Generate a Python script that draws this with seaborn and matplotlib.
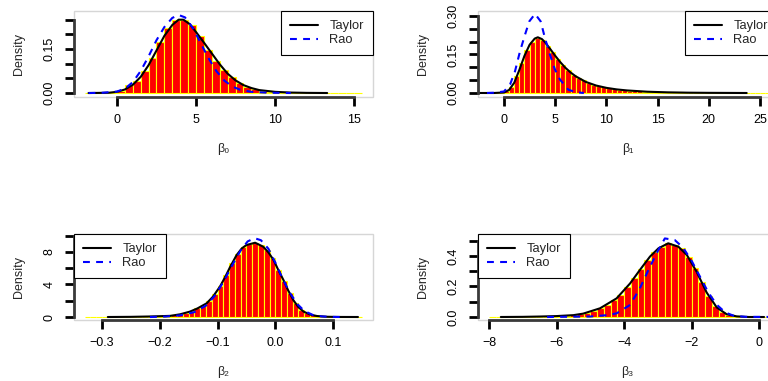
import numpy as np
import pandas as pd
import matplotlib.pyplot as plt
import seaborn as sns
from matplotlib.patches import Rectangle

sns.set_theme(style='white')
plt.rcParams['font.family'] = ['Liberation Sans', 'DejaVu Sans']

### Data ###

# beta0 : histogram (bin start, bin width, densities) + two density curves
b0_start, b0_width = -2.0, 0.5
b0_hist = [0, 0, 0.0005, 0.001, 0.006, 0.028, 0.042, 0.074, 0.119, 0.173,
           0.222, 0.25, 0.25, 0.231, 0.193, 0.148, 0.108, 0.08, 0.053, 0.034,
           0.02, 0.012, 0.007, 0.0045, 0.003, 0.002, 0.0012, 0.0008, 0.0005, 0.0003,
           0.0002, 0.0001, 0, 0, 0]
b0_taylor_x = [-1.8, -1.0, -0.5, 0.0, 0.5, 1.0, 1.5, 2.0, 2.5, 3.0, 3.5, 3.9, 4.2, 4.6,
               5.0, 5.5, 6.0, 6.5, 7.0, 7.5, 8.0, 8.5, 9.0, 10.0, 11.0, 12.0, 13.3]
b0_taylor_y = [0.0, 0.0005, 0.001, 0.004, 0.012, 0.028, 0.055, 0.095, 0.145, 0.195, 0.232,
               0.25, 0.25, 0.235, 0.208, 0.172, 0.135, 0.098, 0.066, 0.043, 0.027, 0.017,
               0.01, 0.004, 0.0015, 0.0005, 0.0]
b0_rao_x = [-1.8, -1.0, 0.0, 0.5, 1.0, 1.5, 2.0, 2.5, 3.0, 3.5, 3.9, 4.3, 4.8, 5.3,
            5.8, 6.3, 6.8, 7.3, 7.8, 8.5, 9.5, 11.0]
b0_rao_y = [0.0, 0.0005, 0.005, 0.015, 0.037, 0.075, 0.125, 0.18, 0.225, 0.256, 0.266,
            0.258, 0.222, 0.17, 0.118, 0.074, 0.042, 0.022, 0.011, 0.004, 0.001, 0.0]

# beta1
b1_start, b1_width = -2.0, 0.5
b1_hist = [0, 0, 0, 0.001, 0.006, 0.025, 0.065, 0.118, 0.168, 0.2,
           0.215, 0.205, 0.185, 0.158, 0.132, 0.109, 0.089, 0.072, 0.06, 0.049,
           0.04, 0.033, 0.027, 0.022, 0.019, 0.016, 0.013, 0.011, 0.0095, 0.008,
           0.0068, 0.0058, 0.005, 0.0043, 0.0037, 0.0032, 0.0027, 0.0023, 0.002, 0.0017,
           0.0014, 0.0012, 0.001, 0.0009, 0.0007, 0.0006, 0.0005, 0.0004, 0.0003, 0.0002,
           0.0002, 0.0001, 0.0001, 0, 0, 0, 0, 0]
b1_taylor_x = [-2.5, -1.0, 0.0, 0.5, 1.0, 1.5, 2.0, 2.5, 3.0, 3.3, 3.7, 4.0, 4.5, 5.0,
               5.5, 6.0, 6.5, 7.0, 8.0, 9.0, 10.0, 11.0, 12.0, 14.0, 16.0, 18.0, 20.0, 23.7]
b1_taylor_y = [0.0, 0.0, 0.002, 0.012, 0.04, 0.09, 0.145, 0.188, 0.212, 0.217, 0.21,
               0.198, 0.172, 0.145, 0.12, 0.098, 0.08, 0.065, 0.043, 0.029, 0.02, 0.014,
               0.01, 0.005, 0.0025, 0.0012, 0.0006, 0.0]
b1_rao_x = [-1.66, -1.0, 0.0, 0.59, 1.07, 1.56, 2.05, 2.47, 3.03, 3.58, 4.0, 4.49,
            4.98, 5.47, 6.28, 7.0, 7.8]
b1_rao_y = [0.0, 0.001, 0.006, 0.033, 0.084, 0.162, 0.227, 0.279, 0.308, 0.279, 0.214,
            0.149, 0.091, 0.052, 0.013, 0.003, 0.0]

# beta2
b2_start, b2_width = -0.33, 0.01
b2_hist = [0, 0, 0, 0.003, 0.005, 0.008, 0.01, 0.015, 0.02, 0.03,
           0.04, 0.055, 0.075, 0.1, 0.13, 0.22, 0.33, 0.5, 0.72, 1.05,
           1.35, 1.95, 2.8, 3.85, 5.2, 6.6, 7.8, 8.6, 8.95, 9.14,
           8.85, 8.2, 7.2, 5.8, 4.4, 2.9, 1.7, 0.9, 0.45, 0.22,
           0.1, 0.05, 0.02, 0.008, 0.003, 0.001, 0, 0]
b2_taylor_x = [-0.29, -0.25, -0.22, -0.2, -0.182, -0.165, -0.148, -0.135, -0.119, -0.108,
               -0.096, -0.087, -0.078, -0.067, -0.058, -0.05, -0.035, -0.021, -0.012,
               -0.003, 0.005, 0.014, 0.022, 0.031, 0.04, 0.049, 0.06, 0.072, 0.09, 0.11, 0.143]
b2_taylor_y = [0.0, 0.02, 0.06, 0.1, 0.14, 0.33, 0.66, 1.05, 1.68, 2.5, 3.73, 4.9, 6.2,
               7.63, 8.45, 8.86, 9.14, 8.65, 7.95, 7.0, 5.8, 4.55, 3.3, 2.09, 1.2, 0.66,
               0.3, 0.12, 0.03, 0.005, 0.0]
b2_rao_x = [-0.217, -0.19, -0.165, -0.14, -0.12, -0.105, -0.09, -0.075, -0.06, -0.048,
            -0.036, -0.025, -0.012, 0.0, 0.012, 0.025, 0.038, 0.05, 0.065, 0.08, 0.095, 0.116]
b2_rao_y = [0.0, 0.05, 0.2, 0.6, 1.4, 2.6, 4.3, 6.3, 8.2, 9.3, 9.7, 9.45, 8.4, 6.7, 4.8,
            3.0, 1.6, 0.75, 0.25, 0.07, 0.015, 0.0]

# beta3
b3_start, b3_width = -8.0, 0.2
b3_hist = [0, 0, 0.0005, 0.001, 0.001, 0.0015, 0.002, 0.0025, 0.003, 0.004,
           0.005, 0.008, 0.012, 0.018, 0.027, 0.04, 0.057, 0.08, 0.11, 0.145,
           0.195, 0.255, 0.315, 0.375, 0.425, 0.46, 0.482, 0.475, 0.45, 0.395,
           0.32, 0.23, 0.14, 0.072, 0.033, 0.012, 0.004, 0.001, 0, 0,
           0, 0]
b3_taylor_x = [-7.65, -7.0, -6.5, -6.0, -5.5, -5.21, -4.71, -4.22, -3.82, -3.53, -3.23,
               -2.98, -2.69, -2.39, -2.14, -1.85, -1.55, -1.25, -0.96, -0.66, -0.3, 0.15]
b3_taylor_y = [0.0, 0.001, 0.003, 0.006, 0.012, 0.022, 0.057, 0.122, 0.22, 0.308, 0.396,
               0.45, 0.483, 0.461, 0.407, 0.297, 0.16, 0.062, 0.018, 0.004, 0.0, 0.0]
b3_rao_x = [-6.28, -5.0, -4.5, -4.22, -3.82, -3.53, -3.23, -2.98, -2.79, -2.5, -2.25,
            -2.0, -1.75, -1.5, -1.25, -1.0, -0.75, -0.4, 0.6]
b3_rao_y = [0.0, 0.003, 0.012, 0.024, 0.079, 0.188, 0.33, 0.44, 0.515, 0.505, 0.455,
            0.37, 0.265, 0.16, 0.08, 0.03, 0.008, 0.001, 0.0]

# axes, ticks and labels
xticks = [[0, 5, 10, 15], [0, 5, 10, 15, 20, 25],
          [-0.3, -0.2, -0.1, 0.0, 0.1], [-8, -6, -4, -2, 0]]
xticklabels = [['0', '5', '10', '15'], ['0', '5', '10', '15', '20', '25'],
               ['\u22120.3', '\u22120.2', '\u22120.1', '0.0', '0.1'],
               ['\u22128', '\u22126', '\u22124', '\u22122', '0']]
yticks = [[0, 0.05, 0.10, 0.15, 0.20, 0.25], [0, 0.05, 0.10, 0.15, 0.20, 0.25, 0.30],
          [0, 2, 4, 6, 8, 10], [0, 0.1, 0.2, 0.3, 0.4, 0.5]]
yticklabels = [['0.00', '', '', '0.15', '', ''], ['0.00', '', '', '0.15', '', '', '0.30'],
               ['0', '', '4', '', '8', ''], ['0.0', '', '0.2', '', '0.4', '']]
xlabels = ['\u03b2\u2080', '\u03b2\u2081', '\u03b2\u2082', '\u03b2\u2083']
xlims = [(-2.72, 16.2), (-2.54, 26.66), (-0.3485, 0.169), (-8.326, 0.533)]
ylims = [(-0.0136, 0.2796), (-0.0156, 0.3194), (-0.369, 10.215), (-0.0197, 0.544)]
legend_locs = ['upper right', 'upper right', 'upper left', 'upper left']

panels = [(b0_start, b0_width, b0_hist, b0_taylor_x, b0_taylor_y, b0_rao_x, b0_rao_y),
          (b1_start, b1_width, b1_hist, b1_taylor_x, b1_taylor_y, b1_rao_x, b1_rao_y),
          (b2_start, b2_width, b2_hist, b2_taylor_x, b2_taylor_y, b2_rao_x, b2_rao_y),
          (b3_start, b3_width, b3_hist, b3_taylor_x, b3_taylor_y, b3_rao_x, b3_rao_y)]

### Plot ###

W, H = 768, 381
fig = plt.figure(figsize=(W / 100, H / 100), dpi=100)
# panel boxes in pixels: left, top (all 299 x 86)
boxes = [(74, 11), (478, 11), (74, 234), (478, 234)]
bw, bh = 299, 86

for i, (start, width, hist, tx, ty, rx, ry) in enumerate(panels):
    left, top = boxes[i]
    ax = fig.add_axes([left / W, (H - top - bh) / H, bw / W, bh / H])
    ax.set_facecolor('white')

    edges = [start + width * k for k in range(len(hist) + 1)]
    df = pd.DataFrame({'mid': [e + width / 2 for e in edges[:-1]], 'dens': hist})
    sns.histplot(data=df, x='mid', weights='dens', bins=edges, stat='count', color='red',
                 edgecolor='yellow', linewidth=0.8, alpha=1, ax=ax)
    sns.lineplot(x=tx, y=ty, color='black', linewidth=1.5, sort=False,
                 estimator=None, label='Taylor', ax=ax)
    sns.lineplot(x=rx, y=ry, color='blue', linewidth=1.5, linestyle=(0, (3.3, 3)),
                 sort=False, estimator=None, label='Rao', ax=ax)

    ax.set_xlim(xlims[i])
    ax.set_ylim(ylims[i])
    ax.set_xticks(xticks[i])
    ax.set_xticklabels(xticklabels[i])
    ax.set_yticks(yticks[i])
    ax.set_yticklabels(yticklabels[i], rotation=90, va='center')
    ax.tick_params(axis='both', direction='out', length=6.5, width=2, color='black',
                   labelsize=9, labelcolor='black', bottom=True, left=True)
    ax.tick_params(axis='x', pad=6)
    ax.tick_params(axis='y', pad=7)

    # light grey box round the plot region, darker axis lines between end ticks
    ax.add_patch(Rectangle((0, 0), 1, 1, transform=ax.transAxes, fill=False,
                           edgecolor='#d6d6d6', linewidth=1, zorder=0.5, clip_on=False))
    for s in ['top', 'right']:
        ax.spines[s].set_visible(False)
    ax.spines['left'].set_bounds(yticks[i][0], yticks[i][-1])
    ax.spines['bottom'].set_bounds(xticks[i][0], xticks[i][-1])
    for s in ['left', 'bottom']:
        ax.spines[s].set_color('#3a3a3a')
        ax.spines[s].set_linewidth(2)

    ax.set_ylabel('Density', fontsize=9)
    ax.yaxis.set_label_coords(-0.165, 0.5)
    ax.set_xlabel(xlabels[i], fontsize=9)
    ax.xaxis.set_label_coords(0.5, -0.535)
    ax.xaxis.label.set_va('top')

    leg = ax.legend(loc=legend_locs[i], borderaxespad=0, fancybox=False, edgecolor='black',
                    framealpha=1, fontsize=9.3, handlelength=2.2, handletextpad=0.85,
                    borderpad=0.7, labelspacing=0.15)
    leg.get_frame().set_linewidth(0.8)

fig.savefig('out.png', dpi=100)
